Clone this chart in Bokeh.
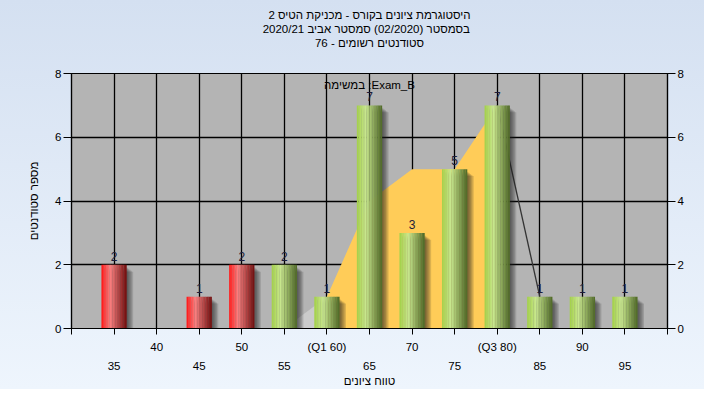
from bokeh.plotting import figure
from bokeh.models import LinearAxis, FixedTicker, Grid, Title, Range1d
from bokeh.embed import file_html
from bokeh.resources import INLINE
from bokeh.core.properties import value

# ---------------- data ----------------
bins = [35, 40, 45, 50, 55, 60, 65, 70, 75, 80, 85, 90, 95]
counts = [2, 0, 1, 2, 2, 1, 7, 3, 5, 7, 1, 1, 1]
pass_grade = 55
q1, q3 = 60, 80
curve_x = [55, 60, 65, 70, 75, 80, 85]
curve_y = [0, 1, 4, 5, 5, 7, 1]
row1_labels = {40: "40", 50: "50", 60: "(Q1 60)", 70: "70", 80: "(Q3 80)", 90: "90"}
row2_ticks = [35, 45, 55, 65, 75, 85, 95]
y_ticks = [0, 2, 4, 6, 8]
title_lines = [
    "היסטוגרמת ציונים בקורס - מכניקת הטיס 2",
    "בסמסטר  (02/2020)  סמסטר אביב 2020/21",
    "סטודנטים רשומים - 76",
]
task_label = "במשימה :Exam_B"
x_title = "טווח ציונים"
y_title = "מספר סטודנטים"

FONT = "Liberation Sans"
X0, X1 = 30, 100
Y0, Y1 = 0, 8

p = figure(width=704, height=389, x_range=Range1d(X0, X1), y_range=Range1d(Y0, Y1),
           output_backend="svg", toolbar_location=None,
           x_axis_type=None, y_axis_type=None, title=None,
           min_border_left=71, min_border_right=37, min_border_top=73, min_border_bottom=60,
           background_fill_color="#b4b4b4", border_fill_color=None,
           outline_line_color="black", outline_line_width=1.2)
p.styles = {"background": "linear-gradient(#d4e0f1, #eef5fd)"}

# grids
all_x_ticks = list(range(X0, X1 + 1, 5))
p.add_layout(Grid(dimension=0, ticker=FixedTicker(ticks=all_x_ticks),
                  grid_line_color="black", grid_line_width=1.3))
p.add_layout(Grid(dimension=1, ticker=FixedTicker(ticks=y_ticks),
                  grid_line_color="black", grid_line_width=1.3))

def style_axis(ax, size="11.5px"):
    ax.major_label_text_font = FONT
    ax.major_label_text_font_size = size
    ax.major_label_text_color = "black"
    ax.axis_label_text_font = FONT
    ax.axis_label_text_font_size = "11.5px"
    ax.axis_label_text_font_style = "normal"
    ax.axis_label_text_color = "black"
    ax.minor_tick_line_color = None
    ax.major_tick_in = 0
    ax.axis_line_color = "black"
    ax.axis_line_width = 1.2
    ax.major_tick_line_color = "black"

# x axes (two staggered rows)
ax_b1 = LinearAxis(ticker=FixedTicker(ticks=all_x_ticks),
                   major_label_overrides={t: row1_labels.get(t, "") for t in all_x_ticks})
style_axis(ax_b1)
ax_b1.major_tick_out = 6
ax_b1.major_label_standoff = 6
p.add_layout(ax_b1, "below")

ax_b2 = LinearAxis(ticker=FixedTicker(ticks=row2_ticks), axis_label=x_title)
style_axis(ax_b2)
ax_b2.axis_line_color = None
ax_b2.major_tick_line_color = None
ax_b2.major_tick_out = 0
ax_b2.major_label_standoff = 6
ax_b2.axis_label_standoff = 2
p.add_layout(ax_b2, "below")

# y axes
ax_l = LinearAxis(ticker=FixedTicker(ticks=y_ticks), axis_label=y_title)
style_axis(ax_l)
ax_l.major_tick_out = 8
ax_l.major_label_standoff = 2
ax_l.axis_label_standoff = 12
p.add_layout(ax_l, "left")

ax_r = LinearAxis(ticker=FixedTicker(ticks=y_ticks))
style_axis(ax_r)
ax_r.major_tick_out = 8
ax_r.major_label_standoff = 2
p.add_layout(ax_r, "right")

# spacer between frame and titles, then titles (nearest-frame first)
p.add_layout(Title(text=" ", text_font=FONT, text_font_size="11.5px", standoff=11), "above")
for line in reversed(title_lines):
    t = Title(text=line, align="center", text_font=FONT, text_font_size="11.5px",
              text_font_style="normal", text_color="black", standoff=0, offset=6)
    p.add_layout(t, "above")

# ---- quartile area ----
lo = [(x, y) for x, y in zip(curve_x, curve_y) if x <= q1]
mid = [(x, y) for x, y in zip(curve_x, curve_y) if q1 <= x <= q3]
hi = [(x, y) for x, y in zip(curve_x, curve_y) if x >= q3]
p.varea(x=[a for a, _ in lo], y1=0, y2=[b for _, b in lo], fill_color="#cbcbcb")
p.varea(x=[a for a, _ in mid], y1=0, y2=[b for _, b in mid], fill_color="#ffcc58")
p.line(x=[a for a, _ in hi], y=[b for _, b in hi], line_color="#333333", line_width=1.3)

# ---- bars with shadow and cylinder gradient ----
px_x = (X1 - X0) / 596.0
px_y = (Y1 - Y0) / 256.0
bar_w = 2.95

RED = [(0.0, (255, 22, 22)), (0.35, (248, 128, 128)), (1.0, (112, 14, 14))]
GREEN = [(0.0, (163, 208, 72)), (0.35, (200, 230, 142)), (1.0, (78, 104, 38))]

def grad(stops, t):
    for (t0, c0), (t1, c1) in zip(stops[:-1], stops[1:]):
        if t0 <= t <= t1:
            f = (t - t0) / (t1 - t0)
            return "#%02x%02x%02x" % tuple(int(round(a + (b - a) * f)) for a, b in zip(c0, c1))
    return "#%02x%02x%02x" % stops[-1][1]

nz_x = [b for b, c in zip(bins, counts) if c > 0]
nz_c = [c for c in counts if c > 0]

for k in range(1, 6):
    p.vbar(x=[b + k * 1.3 * px_x for b in nz_x], top=[c - (2 + k) * px_y for c in nz_c],
           bottom=Y0, width=bar_w, fill_color="#1e1e1e", fill_alpha=0.16, line_color=None)

N = 16
sx, stp, scol = [], [], []
for b, c in zip(nz_x, nz_c):
    stops = RED if b < pass_grade else GREEN
    for i in range(N):
        t = (i + 0.5) / N
        sx.append(b - bar_w / 2 + t * bar_w)
        stp.append(c)
        scol.append(grad(stops, t))
p.vbar(x=sx, top=stp, bottom=Y0, width=bar_w / N * 1.12, fill_color=scol, line_color=None)

# value labels
p.text(x=nz_x, y=nz_c, text=[str(c) for c in nz_c], text_align="center",
       text_baseline="bottom", y_offset=-4, text_font=value(FONT),
       text_font_size="12px", text_color="#1c1c3a")

# task label
p.text(x=[(X0 + X1) / 2], y=[Y1], text=[task_label], text_align="center",
       text_baseline="top", y_offset=5, text_font=value(FONT),
       text_font_size="11.5px", text_color="black")

open("out.html", "w").write(file_html(p, INLINE))
